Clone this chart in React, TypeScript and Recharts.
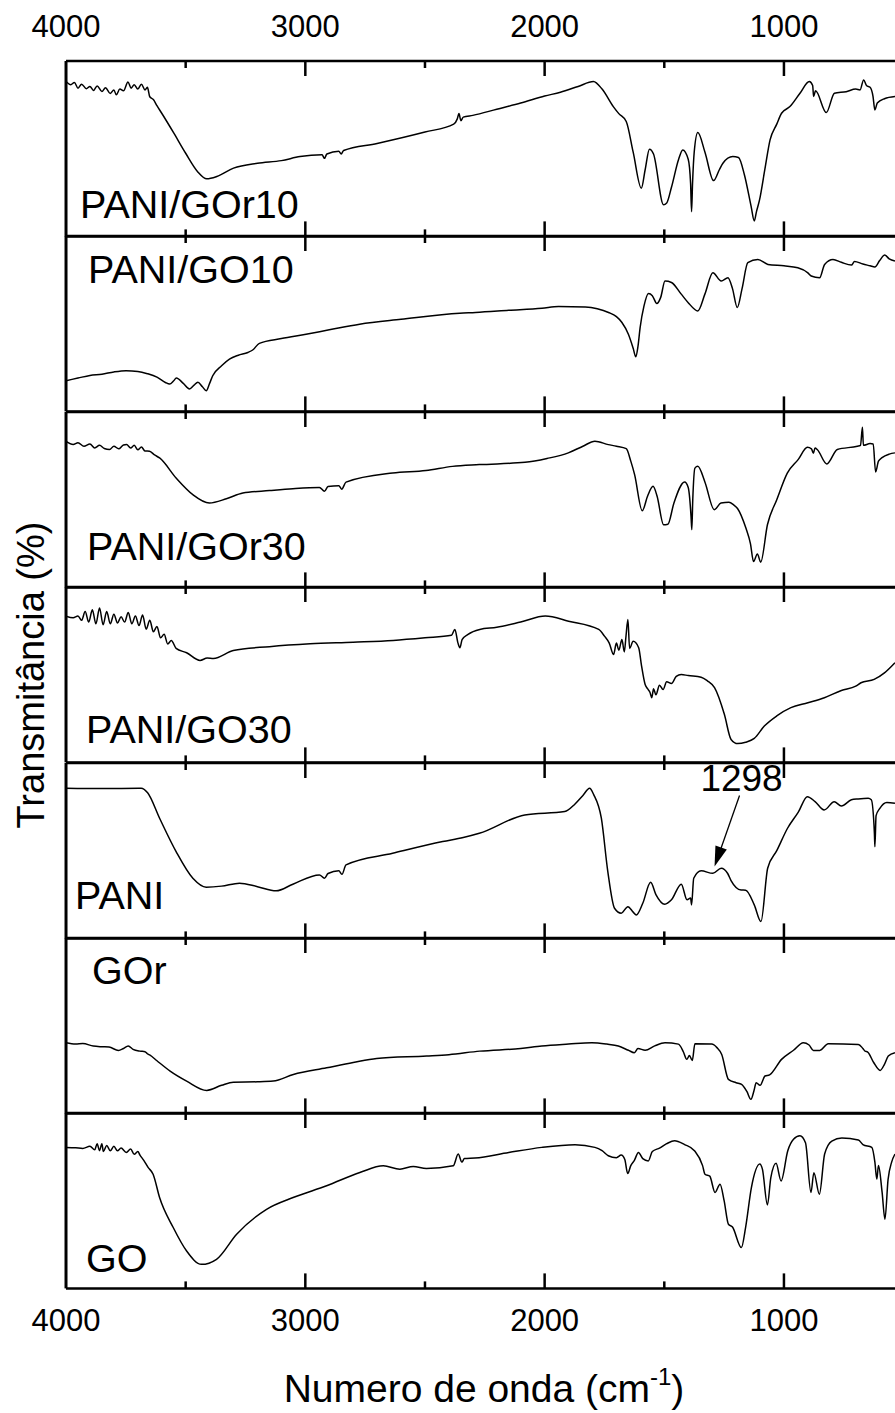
import React from "react";
import { LineChart, Line, XAxis, YAxis, ReferenceDot } from "recharts";

// wavenumber (cm-1), transmittance read as % of panel height (0 = panel bottom)
const paniGOr10: [number, number][] = [
  [4000, 88.3], [3980, 86.5], [3965, 87.8], [3950, 84.5], [3935, 86.8], [3915, 84.2], [3900, 85.5],
  [3885, 83.2], [3870, 85.8], [3850, 82.6], [3835, 84.8], [3815, 81.5], [3800, 83.5], [3790, 80.7],
  [3775, 84], [3760, 83], [3741, 88], [3728, 84.5], [3715, 86.5], [3700, 84], [3685, 86.8], [3670, 83.5],
  [3660, 85], [3650, 79.6], [3635, 78], [3620, 74.5], [3600, 70.2], [3550, 59], [3500, 47.4], [3450, 36.9],
  [3412, 32.8], [3370, 34.1], [3300, 38.9], [3200, 41.7], [3100, 43.2], [3022, 45.5], [2930, 46.5],
  [2920, 44.5], [2910, 47], [2860, 48.5], [2850, 47], [2840, 49], [2700, 53], [2500, 59.5], [2380, 64],
  [2365, 67], [2358, 70], [2350, 66], [2340, 68], [2300, 69], [2200, 72.5], [2100, 76], [2000, 80],
  [1934, 82.2], [1860, 85.5], [1796, 88.3], [1760, 84], [1713, 74], [1690, 70], [1659, 65.5], [1630, 48],
  [1596, 27.5], [1580, 38], [1562, 49.7], [1545, 47], [1503, 18], [1490, 19], [1470, 28], [1440, 44],
  [1423, 49.3], [1400, 44], [1390, 30], [1386, 14.1], [1382, 30], [1375, 48], [1360, 59.2], [1330, 48],
  [1294, 31.8], [1270, 38], [1255, 41.7], [1214, 45.5], [1190, 45], [1165, 35], [1137, 17], [1124, 8.8],
  [1115, 14], [1102, 20.8], [1080, 38], [1058, 55], [1030, 64], [1010, 70.2], [975, 74], [933, 81.6],
  [894, 88.3], [880, 86], [876, 79.7], [868, 83], [823, 70.6], [789, 81.6], [740, 82.5], [700, 84],
  [682, 83.5], [667, 89.2], [655, 86], [640, 85], [628, 80], [620, 72.1], [610, 76], [580, 78.5], [536, 79.7],
];

const paniGO10: [number, number][] = [
  [4000, 17.5], [3950, 19], [3900, 20.5], [3850, 21.2], [3800, 22.5], [3749, 23.2], [3700, 22.8],
  [3660, 21.5], [3620, 19.5], [3585, 16.5], [3567, 15.6], [3550, 17.5], [3539, 19], [3510, 16], [3484, 12.8],
  [3465, 15], [3449, 16.6], [3430, 14], [3414, 11.8], [3400, 16], [3387, 20.3], [3350, 26], [3317, 29.8],
  [3280, 32], [3240, 33.6], [3220, 35], [3192, 38.8], [3100, 41.5], [2997, 44], [2900, 46.5], [2773, 49.7],
  [2600, 52.5], [2355, 56], [2289, 56.4], [2150, 57.6], [2011, 58.8], [1942, 59.8], [1830, 59.5],
  [1780, 58.5], [1733, 56.4], [1700, 54], [1677, 50.7], [1650, 44], [1630, 36], [1619, 31.1], [1610, 37],
  [1601, 47.8], [1585, 60], [1566, 67.2], [1550, 66], [1531, 61.5], [1515, 65], [1497, 74.3], [1470, 73.5],
  [1430, 67], [1400, 62], [1360, 57.3], [1330, 67], [1297, 79], [1262, 74.3], [1234, 76.2], [1215, 70],
  [1195, 59.2], [1175, 70], [1151, 84.8], [1109, 86.6], [1067, 83.8], [1000, 83], [942, 81.9], [900, 79],
  [886, 77.2], [851, 76.2], [830, 83.8], [795, 86.6], [760, 85], [718, 83.4], [705, 85.5], [670, 84],
  [640, 83], [620, 82.3], [600, 86], [579, 89.1], [560, 87], [536, 85.7],
];

const paniGOr30: [number, number][] = [
  [4000, 83.3], [3970, 81.5], [3950, 82.5], [3925, 80.5], [3900, 81.8], [3880, 79.5], [3860, 81],
  [3840, 79.2], [3818, 78.6], [3800, 80.5], [3780, 79], [3760, 81.2], [3747, 81.4], [3730, 79.5],
  [3715, 81], [3700, 78.5], [3685, 80], [3670, 77.8], [3651, 77.6], [3630, 75.5], [3609, 73.8],
  [3540, 62.4], [3470, 52.9], [3401, 48.1], [3330, 50.5], [3261, 53.8], [3150, 55.2], [3052, 56.3],
  [2941, 57], [2920, 54.8], [2905, 57.5], [2860, 58], [2848, 56], [2830, 60], [2635, 65.2], [2496, 66.6],
  [2385, 69], [2273, 70], [2082, 71.3], [1990, 73.5], [1901, 76.7], [1840, 80.5], [1790, 83.3],
  [1734, 81.4], [1700, 80.5], [1659, 79.1], [1640, 72], [1624, 64.3], [1592, 43.7], [1570, 52],
  [1547, 57.6], [1530, 52], [1503, 35.7], [1485, 36], [1460, 48], [1415, 60.1], [1400, 57], [1388, 40],
  [1385, 32.9], [1381, 50], [1372, 68], [1360, 69], [1330, 60], [1291, 44.3], [1263, 48.1], [1230, 48.5],
  [1210, 47], [1194, 45], [1159, 33.8], [1140, 25], [1127, 14.7], [1111, 19], [1097, 14.4], [1069, 35.7],
  [1030, 50], [986, 65.2], [940, 73], [902, 79.9], [885, 79], [877, 76.5], [870, 79.5], [860, 78.5],
  [821, 70.4], [777, 78.6], [693, 80.5], [680, 81], [672, 91.3], [668, 81], [640, 82], [627, 81.8],
  [617, 65.8], [605, 72], [590, 74], [560, 76], [536, 76.7],
];

const paniGO30: [number, number][] = [
  [4000, 83.4], [3970, 82.5], [3950, 83.5], [3935, 81], [3920, 86], [3905, 80], [3890, 87], [3875, 79],
  [3860, 88], [3845, 78.5], [3830, 86], [3815, 79], [3800, 84.5], [3785, 79.5], [3770, 83], [3755, 80],
  [3740, 85.5], [3725, 79], [3710, 83.5], [3695, 78], [3680, 84], [3665, 76], [3650, 81], [3635, 74.5],
  [3620, 77.5], [3605, 71], [3590, 73], [3575, 67.5], [3560, 69.5], [3540, 65], [3496, 62.5], [3440, 58.1],
  [3410, 59.5], [3384, 59.3], [3301, 63.8], [3150, 66], [2980, 67.6], [2800, 68.5], [2633, 69.5],
  [2500, 71], [2389, 72.5], [2375, 75.8], [2362, 68], [2354, 65.4], [2345, 70], [2320, 73], [2271, 75.8],
  [2200, 77], [2100, 80], [1997, 83.4], [1900, 80.5], [1774, 75.8], [1750, 72], [1730, 68], [1712, 61.5],
  [1700, 68], [1690, 64], [1677, 70], [1667, 63], [1660, 72], [1652, 81.5], [1645, 65], [1630, 69],
  [1607, 65.4], [1595, 55], [1580, 44.4], [1570, 42], [1560, 40], [1552, 36.9], [1545, 42], [1535, 38.5],
  [1520, 44], [1505, 41.5], [1490, 46], [1470, 45], [1450, 49], [1429, 50.1], [1400, 49.5], [1346, 48.6],
  [1320, 46.5], [1290, 42.6], [1249, 27.4], [1221, 13.1], [1193, 10.7], [1160, 11.5], [1124, 13.7],
  [1082, 20.7], [1030, 26.5], [971, 31.2], [900, 34], [831, 36.9], [760, 41], [700, 43.5], [678, 45.4],
  [623, 47.3], [580, 51], [536, 56.8],
];

const pani: [number, number][] = [
  [4000, 85.6], [3850, 85.4], [3686, 85.6], [3659, 83], [3609, 68.5], [3540, 49.5], [3470, 34.3],
  [3414, 29.2], [3350, 29.8], [3275, 31.5], [3200, 29.5], [3122, 27.1], [3052, 30.9], [2941, 36.2],
  [2920, 34.3], [2905, 37], [2860, 38.5], [2847, 36.5], [2830, 41.9], [2635, 48.5], [2426, 55.2],
  [2340, 57.5], [2273, 59.9], [2083, 70.4], [1916, 72.3], [1874, 76.5], [1840, 81.5], [1812, 85.6],
  [1795, 82], [1763, 68.5], [1736, 38.1], [1708, 17.2], [1680, 14.4], [1652, 18.1], [1630, 15],
  [1617, 13.4], [1590, 20], [1557, 32], [1535, 25], [1498, 19.5], [1470, 22], [1429, 30.9], [1405, 22],
  [1390, 23], [1386, 19.1], [1377, 34.3], [1346, 38.5], [1297, 37.1], [1262, 40], [1235, 37], [1221, 33],
  [1179, 27.6], [1160, 27.5], [1124, 19.1], [1096, 9.6], [1068, 40], [1030, 50], [985, 62.8], [940, 72],
  [902, 80.8], [870, 78], [832, 73.2], [790, 77.9], [760, 75.5], [718, 79], [690, 79.5], [648, 79.9],
  [635, 79], [622, 60], [620, 52.3], [615, 70], [600, 74], [570, 77.5], [536, 77],
];

const gor: [number, number][] = [
  [4000, 40.3], [3960, 39.5], [3930, 39.8], [3886, 38.4], [3850, 38], [3820, 37.8], [3781, 35.9],
  [3760, 37], [3740, 38.4], [3720, 36.5], [3691, 35.5], [3670, 35.2], [3660, 34], [3649, 33.2],
  [3620, 30], [3565, 24.1], [3496, 18.4], [3412, 13.1], [3350, 16], [3301, 17.8], [3200, 18],
  [3134, 18.4], [3050, 22.2], [2911, 26], [2800, 29], [2702, 31.3], [2493, 32.7], [2400, 33.5],
  [2271, 35.5], [2100, 37], [2012, 38.4], [1900, 39.5], [1803, 40.3], [1740, 39.5], [1692, 38.4],
  [1650, 36], [1625, 34.6], [1610, 37], [1580, 36], [1540, 38.5], [1497, 40.3], [1441, 39.5], [1420, 35],
  [1406, 30.8], [1395, 33], [1383, 30.2], [1372, 39.7], [1302, 39.5], [1280, 37.5], [1260, 33.6],
  [1232, 19.4], [1200, 17.5], [1177, 16.5], [1155, 12.5], [1138, 8], [1125, 13], [1116, 17.5], [1100, 16],
  [1079, 21.3], [1060, 22], [1010, 30.8], [960, 36], [919, 40.3], [895, 39], [877, 35.9], [850, 35.9],
  [815, 39.7], [689, 39.3], [670, 37], [661, 35.5], [650, 35], [625, 29], [598, 24.5], [580, 28],
  [564, 32.7], [536, 34.6],
];

const go: [number, number][] = [
  [4000, 80.4], [3960, 80.2], [3930, 79.8], [3900, 81], [3880, 79], [3870, 82.5], [3860, 78.5],
  [3850, 82.5], [3844, 78], [3830, 81.5], [3815, 78.5], [3800, 81], [3785, 78.5], [3770, 80], [3748, 77.5],
  [3730, 79.5], [3715, 76.5], [3700, 78], [3691, 76], [3675, 73], [3657, 69], [3636, 65.1], [3609, 51.8],
  [3552, 34.7], [3496, 21.3], [3434, 13.7], [3371, 16.6], [3287, 30.9], [3162, 45.1], [3051, 51.8],
  [2911, 58.5], [2772, 66.1], [2674, 69.9], [2605, 68], [2549, 69.5], [2494, 68.4], [2382, 69.9],
  [2361, 76.6], [2346, 72], [2335, 74], [2291, 74.3], [2150, 77.5], [2012, 80.4], [1873, 81.9],
  [1790, 80.4], [1760, 78.5], [1734, 75.6], [1700, 74.5], [1680, 76], [1665, 73.5], [1653, 65.5],
  [1640, 70], [1625, 73], [1608, 77.5], [1590, 74], [1567, 72.7], [1550, 78], [1520, 80], [1490, 82.5],
  [1457, 84.2], [1415, 82], [1374, 78.5], [1340, 70], [1330, 65.1], [1310, 64], [1288, 54.7], [1267, 59.4],
  [1250, 50], [1232, 36.6], [1215, 35], [1178, 23.3], [1160, 35], [1136, 57.5], [1101, 70.9], [1090, 68],
  [1069, 47.6], [1055, 63], [1033, 71.3], [1012, 61.3], [984, 78.5], [960, 85], [933, 87], [910, 83],
  [887, 54.7], [875, 66], [852, 53.7], [830, 76.6], [800, 84], [758, 85.7], [689, 84.6], [670, 82],
  [633, 80.4], [620, 72], [612, 62.3], [605, 70], [590, 55], [578, 39.4], [565, 62], [550, 72], [536, 76.6],
];

const panelNames = ["PANI/GOr10", "PANI/GO10", "PANI/GOr30", "PANI/GO30", "PANI", "GOr", "GO"];
const spectra = [paniGOr10, paniGO10, paniGOr30, paniGO30, pani, gor, go];
// label anchor (left x, baseline y) on the page
const labelPos: [number, number][] = [
  [80, 218], [88, 283], [87, 560], [86, 743], [75, 909], [92, 984], [86, 1272],
];
const xTicks = [4000, 3500, 3000, 2500, 2000, 1500, 1000];

const W = 895;
const PAGE_H = 1413;
const LEFT = 66;
const TOP = 61;
const PH = 175.4;
const FONT = "'Liberation Sans', Arial, sans-serif";
const axisStyle = { stroke: "#000", strokeWidth: 2.5 };

function renderTick(p: any, side: "top" | "bottom", showLabel: boolean) {
  const { x, y, payload } = p;
  const v = payload.value;
  const major = v % 1000 === 0;
  const len = major ? 15 : 7;
  const dir = side === "top" ? 1 : -1;
  return (
    <g>
      {v !== 4000 && <line x1={x} x2={x} y1={y} y2={y + dir * len} stroke="#000" strokeWidth={2.5} />}
      {showLabel && major && (
        <text x={x} y={side === "top" ? y - 24 : y + 43} textAnchor="middle" fontSize={31} fontFamily={FONT} fill="#000">
          {v}
        </text>
      )}
    </g>
  );
}

const Arrow = (p: any) => {
  const { cx, cy } = p;
  if (cx == null || cy == null) return null;
  return (
    <g>
      <line x1={cx + 25} y1={cy - 71} x2={cx + 5} y2={cy - 14} stroke="#000" strokeWidth={1.3} />
      <polygon points={`${cx},${cy} ${cx + 12.3},${cy - 16.9} ${cx + 0.9},${cy - 20.9}`} fill="#000" />
      <text x={cx + 27} y={cy - 75} textAnchor="middle" fontSize={37} fontFamily={FONT} fill="#000">
        1298
      </text>
    </g>
  );
};

function Panel({ index }: { index: number }) {
  const n = spectra.length;
  const first = index === 0;
  const last = index === n - 1;
  const mt = first ? TOP : 4;
  const mb = last ? PAGE_H - (TOP + n * PH) : 4;
  const data = spectra[index].map(([wn, v]) => ({ wn, v }));
  const common = {
    type: "number" as const,
    dataKey: "wn",
    domain: [536, 4000] as [number, number],
    reversed: true,
    allowDataOverflow: true,
    ticks: xTicks,
    interval: 0 as const,
    height: 1,
    tickSize: 0,
    tickMargin: 0,
    tickLine: false,
    axisLine: axisStyle,
  };
  return (
    <div style={{ position: "absolute", left: 0, top: TOP + index * PH - mt }}>
      <LineChart
        width={W}
        height={PH + mt + mb}
        data={data}
        margin={{ top: mt - 1, right: 0, bottom: mb - 1, left: LEFT - 1 }}
      >
        <XAxis xAxisId="t" orientation="top" {...common} tick={(p: any) => renderTick(p, "top", first)} />
        <XAxis xAxisId="b" orientation="bottom" {...common} tick={(p: any) => renderTick(p, "bottom", last)} />
        <YAxis
          yAxisId="y"
          type="number"
          domain={[0, 100]}
          allowDataOverflow
          width={1}
          tick={false}
          tickLine={false}
          axisLine={{ stroke: "#000", strokeWidth: 3 }}
        />
        <Line
          xAxisId="b"
          yAxisId="y"
          type="monotone"
          dataKey="v"
          stroke="#000"
          strokeWidth={1.5}
          dot={false}
          isAnimationActive={false}
        />
        {panelNames[index] === "PANI" && (
          <ReferenceDot xAxisId="b" yAxisId="y" x={1290} y={41} r={0} shape={Arrow} />
        )}
      </LineChart>
    </div>
  );
}

export default function App() {
  return (
    <div style={{ position: "absolute", left: 0, top: 0, width: W, height: PAGE_H, background: "#fff" }}>
      {spectra.map((_, i) => (
        <Panel key={i} index={i} />
      ))}
      <svg
        width={W}
        height={PAGE_H}
        style={{ position: "absolute", left: 0, top: 0, pointerEvents: "none" }}
        fontFamily={FONT}
      >
        {panelNames.map((name, i) => (
          <text key={name} x={labelPos[i][0]} y={labelPos[i][1]} fontSize={39.5} fill="#000">
            {name}
          </text>
        ))}
        <text x={484} y={1402} textAnchor="middle" fontSize={39} fill="#000">
          Numero de onda (cm
          <tspan dy={-17} fontSize={24}>-1</tspan>
          <tspan dy={17}>)</tspan>
        </text>
        <text x={44} y={675} textAnchor="middle" fontSize={38} fill="#000" transform="rotate(-90 44 675)">
          Transmitância (%)
        </text>
      </svg>
    </div>
  );
}
